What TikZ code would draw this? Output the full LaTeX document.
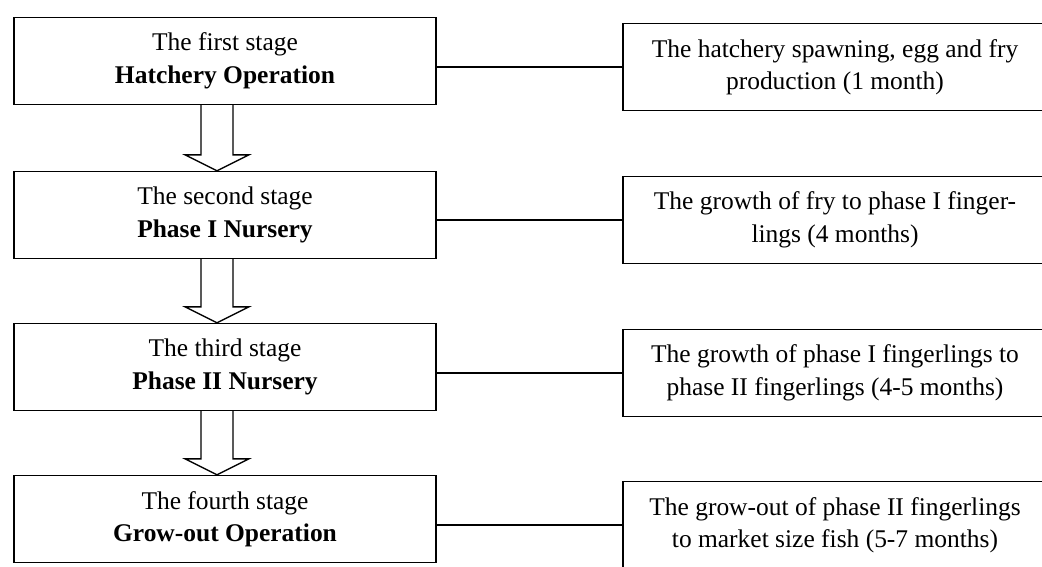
\documentclass[tikz,border=0pt]{standalone}
\usepackage{fontspec}
\setmainfont{Liberation Serif}
\usepackage{tikz}
\usetikzlibrary{calc}

\begin{document}
\begin{tikzpicture}[x=0.02cm,y=-0.02cm,line width=0.8pt,
    stagebox/.style={draw,rectangle,align=center,minimum width=8.44cm,minimum height=1.74cm,
      font=\fontsize{14.5}{18.5}\selectfont},
    notebox/.style={draw,rectangle,align=center,minimum width=8.48cm,minimum height=1.74cm,
      font=\fontsize{14.5}{18.5}\selectfont}]
  \useasboundingbox (0,0) rectangle (1042,567);

  \node (s1) [stagebox] at (225,61) {The first stage\\\textbf{Hatchery Operation}};
  \node (s2) [stagebox] at (225,215) {The second stage\\\textbf{Phase I Nursery}};
  \node (s3) [stagebox] at (225,367) {The third stage\\\textbf{Phase II Nursery}};
  \node (s4) [stagebox] at (225,519) {The fourth stage\\\textbf{Grow-out Operation}};

  \node (d1) [notebox] at (835,67) {The hatchery spawning, egg and fry\\production (1 month)};
  \node (d2) [notebox] at (835,220) {The growth of fry to phase I finger-\\lings (4 months)};
  \node (d3) [notebox] at (835,373) {The growth of phase I fingerlings to\\phase II fingerlings (4-5 months)};
  \node (d4) [notebox] at (835,525) {The grow-out of phase II fingerlings\\to market size fish (5-7 months)};

  \draw (d1.west -| s1.east) -- (d1.west);
  \draw (d2.west -| s2.east) -- (d2.west);
  \draw (d3.west -| s3.east) -- (d3.west);
  \draw (d4.west -| s4.east) -- (d4.west);

  % hollow arrows between the stages
  \draw ($(s1.south)+(-24,0)$) -- ($(s2.north)+(-24,-16)$) -- ($(s2.north)+(-40,-16)$)
    -- ($(s2.north)+(-8,0)$) -- ($(s2.north)+(24,-16)$) -- ($(s2.north)+(8,-16)$)
    -- ($(s1.south)+(8,0)$);
  \draw ($(s2.south)+(-24,0)$) -- ($(s3.north)+(-24,-16)$) -- ($(s3.north)+(-40,-16)$)
    -- ($(s3.north)+(-8,0)$) -- ($(s3.north)+(24,-16)$) -- ($(s3.north)+(8,-16)$)
    -- ($(s2.south)+(8,0)$);
  \draw ($(s3.south)+(-24,0)$) -- ($(s4.north)+(-24,-16)$) -- ($(s4.north)+(-40,-16)$)
    -- ($(s4.north)+(-8,0)$) -- ($(s4.north)+(24,-16)$) -- ($(s4.north)+(8,-16)$)
    -- ($(s3.south)+(8,0)$);
\end{tikzpicture}
\end{document}
